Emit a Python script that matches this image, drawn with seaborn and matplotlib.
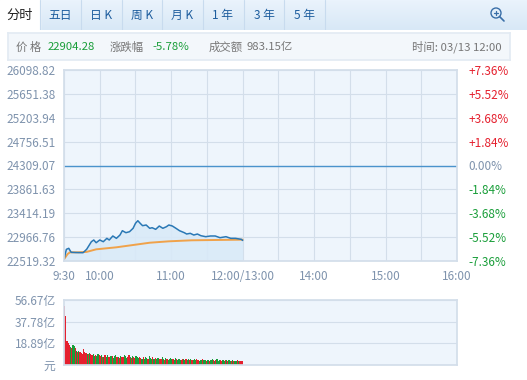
import numpy as np
import pandas as pd
import matplotlib
matplotlib.use("Agg")
import matplotlib.pyplot as plt
import matplotlib.patches as mpatches
import matplotlib.transforms as mtransforms
import seaborn as sns

# ---- data ----
prev_close = 24309.07
y_ticks = [22519.32, 22966.76, 23414.19, 23861.63, 24309.07, 24756.51, 25203.94, 25651.38, 26098.82]
pct_labels = ["-7.36%", "-5.52%", "-3.68%", "-1.84%", "0.00%", "+1.84%", "+3.68%", "+5.52%", "+7.36%"]
x_tick_min = [0, 30, 90, 150, 210, 270, 330]
x_tick_labels = ["9:30", "10:00", "11:00", "12:00/13:00", "14:00", "15:00", "16:00"]

price_min = [0, 2, 4, 6, 10, 16, 19, 23, 25, 27, 30, 33, 36, 38, 41, 44, 47, 49, 52, 55,
             58, 60, 62, 64, 66, 69, 72, 74, 77, 80, 83, 86, 88, 91, 94, 97, 101, 103, 106, 109,
             112, 115, 119, 123, 127, 131, 136, 140, 144, 149, 150]
price = [22551, 22738, 22757, 22682, 22678, 22675, 22738, 22881, 22913, 22862, 22913, 22881, 22944, 22913,
         22988, 22944, 23006, 23087, 23050, 23068, 23132, 23225, 23274, 23225, 23181, 23194, 23132, 23143,
         23113, 23175, 23132, 23162, 23194, 23175, 23132, 23087, 23050, 23025, 23038, 23006, 23025, 22993,
         22975, 22988, 22988, 22956, 22975, 22944, 22944, 22925, 22904.28]

avg_min = [0, 3, 5, 12, 19, 27, 44, 58, 72, 88, 107, 127, 150]
avg_price = [22551, 22650, 22682, 22682, 22690, 22738, 22776, 22819, 22862, 22888, 22907, 22913, 22919]

vol_max = 56.67
vol_ticks = [0, 18.89, 37.78, 56.67]
vol_tick_labels = ["元", "18.89亿", "37.78亿", "56.67亿"]
volume = [51.4, 42.6, 20.5, 19.5, 17.5, 15.8, 14.6, 17.8, 16.8, 14.4, 12.5, 11.0, 12.2, 11.6, 10.2,
          9.5, 13.8, 11.6, 10.6, 9.3, 9.8, 10.5, 9.2, 8.4, 9.8, 8.2, 9.0, 7.6, 9.5, 8.6,
          7.8, 8.8, 7.0, 6.8, 8.4, 7.2, 8.6, 7.4, 6.6, 8.2, 7.6, 6.4, 7.8, 8.4, 6.8,
          7.2, 6.2, 8.0, 7.4, 6.6, 8.8, 7.6, 6.4, 7.0, 8.6, 7.2, 6.0, 8.2, 7.0, 6.4,
          7.6, 6.6, 5.8, 7.4, 6.2, 5.6, 6.8, 5.4, 6.6, 5.8, 5.2, 7.8, 6.0, 5.4, 6.6,
          5.6, 6.4, 5.0, 5.8, 6.2, 4.8, 5.6, 6.6, 5.0, 4.6, 5.8, 5.2, 4.6, 5.4, 6.0,
          4.8, 5.4, 4.4, 5.8, 5.0, 4.4, 5.2, 4.6, 4.2, 5.6, 4.8, 4.2, 5.0, 4.4, 4.8,
          4.2, 5.2, 4.6, 4.0, 4.8, 4.4, 5.0, 4.2, 3.8, 4.6, 4.2, 4.8, 4.0, 4.4, 3.8,
          4.6, 4.2, 3.8, 4.4, 5.0, 4.0, 3.6, 4.2, 4.8, 3.8, 4.4, 4.0, 3.6, 4.2, 3.8,
          4.4, 4.0, 3.6, 4.2, 3.8, 3.4, 4.0, 3.6, 3.8, 3.4, 4.0, 3.6, 3.4, 3.8, 3.2]
vol_dir = ("rrrrrgrggrgrgrr"
           "rrrrgrgrrggrggr"
           "rgrgrggrrgrgggr"
           "grgrrgggrrgrgrr"
           "gggrrgrgggrgggr"
           "grgggrrggrgrggg"
           "grggrgggrrggrgg"
           "rgrgggrrgggrggr"
           "ggrggrgrgggrrgg"
           "rgrggrgrggrgrrr")

# ---- style ----
sns.set_theme(style="white")
plt.rcParams["font.family"] = ["Noto Sans CJK SC", "DejaVu Sans"]
RED = "#e5202e"
GREEN = "#1a9e3a"
TICK = "#7f93ad"
GRID = "#d3deea"
BG = "#eef5fc"

fig = plt.figure(figsize=(5.27, 3.80), dpi=100)
W, H = 527.0, 380.0


def fx(px):
    return px / W


def fy(py):
    return 1 - py / H


# ---- header: tabs ----
tab_ax = fig.add_axes([0, fy(30), 1, 30 / H])
tab_ax.set_xlim(0, W)
tab_ax.set_ylim(30, 0)
tab_ax.axis("off")
grad = np.linspace(0, 1, 30).reshape(-1, 1)
tab_ax.imshow(grad, extent=[0, W, 30, 0], aspect="auto",
              cmap=matplotlib.colors.LinearSegmentedColormap.from_list("t", ["#eaf3fc", "#d8e8f6"]))
tab_ax.add_patch(mpatches.Rectangle((0, 0), 40, 30, color="white", zorder=2))
for sx in [40, 81, 122, 162, 203, 244, 284, 325]:
    tab_ax.plot([sx, sx], [0, 30], color="#c8dbee", lw=0.8, zorder=2)
tab_ax.text(20, 15, "分时", ha="center", va="center", fontsize=9.5, color="#222222", zorder=3)
tabs = ["五日", "日 K", "周 K", "月 K", "1 年", "3 年", "5 年"]
tab_cx = [60, 101, 142, 182, 223, 264, 304]
for t, cx in zip(tabs, tab_cx):
    tab_ax.text(cx, 15, t, ha="center", va="center", fontsize=8.5, color="#1d5d9e", zorder=3)
# magnifier icon
tab_ax.add_patch(mpatches.Circle((496, 13), 5, fill=False, ec="#3a6fa8", lw=1, zorder=3))
tab_ax.plot([494, 498], [13, 13], color="#3a6fa8", lw=0.9, zorder=3)
tab_ax.plot([496, 496], [11, 15], color="#3a6fa8", lw=0.9, zorder=3)
tab_ax.plot([499.5, 504], [16.5, 21], color="#3a6fa8", lw=1.2, zorder=3)

# ---- info bar ----
info_ax = fig.add_axes([fx(8), fy(60), fx(502), 27 / H])
info_ax.set_xlim(8, 510)
info_ax.set_ylim(60, 33)
info_ax.set_facecolor("#f3f7fb")
for s in info_ax.spines.values():
    s.set_color("#e3ebf3")
info_ax.set_xticks([])
info_ax.set_yticks([])
iy = 47
fs = 8.2
info_ax.text(16, iy, "价 格", va="center", fontsize=fs, color="#777777")
info_ax.text(48, iy, "22904.28", va="center", fontsize=fs, color=GREEN)
info_ax.text(110, iy, "涨跌幅", va="center", fontsize=fs, color="#777777")
info_ax.text(152, iy, "-5.78%", va="center", fontsize=fs, color=GREEN)
info_ax.text(209, iy, "成交额", va="center", fontsize=fs, color="#777777")
info_ax.text(247, iy, "983.15亿", va="center", fontsize=fs, color="#777777")
info_ax.text(502, iy, "时间: 03/13 12:00", va="center", ha="right", fontsize=fs, color="#777777")

# ---- main price axes ----
ax = fig.add_axes([fx(64), fy(261), fx(457 - 64), (261 - 70) / H])
ax.set_facecolor(BG)
ax.set_xlim(0, 330)
ax.set_ylim(y_ticks[0], y_ticks[-1])
ax.set_xticks(range(0, 331, 30))
ax.set_yticks(y_ticks)
ax.grid(True, color=GRID, lw=0.8)
for s in ax.spines.values():
    s.set_color(GRID)

df_p = pd.DataFrame({"minute": price_min, "price": price})
df_a = pd.DataFrame({"minute": avg_min, "price": avg_price})
ax.fill_between(df_p["minute"], df_p["price"], y_ticks[0], color="#d9eaf8", alpha=0.9, lw=0)
ax.axhline(prev_close, color="#4a93cc", lw=1)
sns.lineplot(data=df_a, x="minute", y="price", ax=ax, color="#f0a24a", lw=1.4)
sns.lineplot(data=df_p, x="minute", y="price", ax=ax, color="#2a78b5", lw=1.1)
ax.set_xlabel("")
ax.set_ylabel("")

ax.set_yticklabels([f"{v:.2f}" for v in y_ticks])
ax.tick_params(axis="y", length=0, labelsize=8.5, labelcolor=TICK, pad=6)
ax.tick_params(axis="x", length=0, labelbottom=False)
xlab_tr = mtransforms.blended_transform_factory(ax.transData, ax.transAxes)
for xm, lab in zip(x_tick_min, x_tick_labels):
    ax.text(xm, -0.083, lab, transform=xlab_tr, ha="center", va="center",
            fontsize=8.5, color=TICK, clip_on=False)

ax2 = ax.twinx()
ax2.set_ylim(ax.get_ylim())
ax2.set_yticks(y_ticks)
ax2.set_yticklabels(pct_labels)
ax2.tick_params(axis="y", length=0, labelsize=8.5, pad=8)
for lab, txt in zip(ax2.get_yticklabels(), pct_labels):
    if txt.startswith("+"):
        lab.set_color(RED)
    elif txt.startswith("-"):
        lab.set_color(GREEN)
    else:
        lab.set_color(TICK)
for s in ax2.spines.values():
    s.set_visible(False)

# ---- volume axes ----
vax = fig.add_axes([fx(64), fy(365), fx(457 - 64), (365 - 300) / H])
vax.set_facecolor(BG)
df_v = pd.DataFrame({"minute": np.arange(len(volume)), "vol": volume, "dir": list(vol_dir)})
bar_colors = df_v["dir"].map({"r": RED, "g": GREEN})
vax.bar(df_v["minute"] + 0.5, df_v["vol"], width=1.0, color=bar_colors, linewidth=0,
        antialiased=False)
vax.set_xlim(0, 330)
vax.set_ylim(0, vol_max)
vax.set_xticks([])
vax.set_yticks(vol_ticks)
vax.set_yticklabels(vol_tick_labels)
vax.tick_params(axis="y", length=0, labelsize=8.5, labelcolor=TICK, pad=6)
vax.grid(True, axis="y", color=GRID, lw=0.8)
vax.set_axisbelow(True)
for s in vax.spines.values():
    s.set_color(GRID)

fig.savefig("out.png", dpi=100)
